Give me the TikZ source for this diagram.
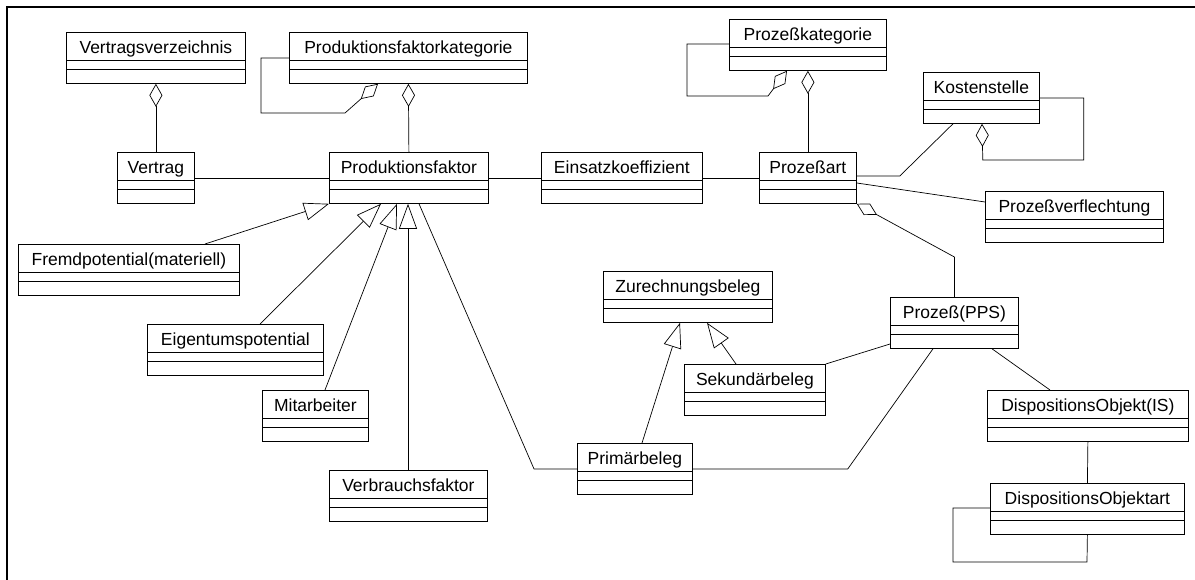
\documentclass[tikz,border=0pt]{standalone}
\usepackage{fontspec}
\setmainfont{Liberation Sans}
\usepackage{tikz}
\usetikzlibrary{arrows.meta}

\begin{document}
\begin{tikzpicture}[x=1pt,y=-1pt,
  classbox/.style={draw, line width=0.8pt, anchor=north west, inner sep=0pt,
    minimum height=51pt, text height=21pt, text depth=30pt,
    font=\fontsize{17.5}{20}\selectfont,
    path picture={
      \draw[line width=0.8pt] ([yshift=-28pt]path picture bounding box.north west) -- ([yshift=-28pt]path picture bounding box.north east);
      \draw[line width=0.8pt] ([yshift=-37pt]path picture bounding box.north west) -- ([yshift=-37pt]path picture bounding box.north east);}},
  assoc/.style={line width=0.7pt},
  aggr/.style={line width=0.7pt, -{Diamond[open, length=23pt, width=13pt]}},
  inherit/.style={line width=0.7pt, -{Triangle[open, length=25pt, width=18pt]}}]
\useasboundingbox (0,0) rectangle (1195,580);
\draw[line width=2.2pt] (7,580) -- (7,7) -- (1195,7);
\node[classbox, minimum width=179pt] (vv) at (66,32) {Vertragsverzeichnis};
\node[classbox, minimum width=238pt] (pfk) at (289,32) {Produktionsfaktorkategorie};
\node[classbox, minimum width=157pt] (pk) at (729,19) {Prozeßkategorie};
\node[classbox, minimum width=116pt] (ks) at (923,72) {Kostenstelle};
\node[classbox, minimum width=77pt] (vt) at (117,152) {Vertrag};
\node[classbox, minimum width=159pt] (pf) at (329,152) {Produktionsfaktor};
\node[classbox, minimum width=161pt] (ek) at (541,152) {Einsatzkoeffizient};
\node[classbox, minimum width=97pt] (pa) at (759,152) {Prozeßart};
\node[classbox, minimum width=178pt] (pv) at (985,191) {Prozeßverflechtung};
\node[classbox, minimum width=221pt] (fp) at (18,244) {Fremdpotential(materiell)};
\node[classbox, minimum width=176pt] (ep) at (147,324) {Eigentumspotential};
\node[classbox, minimum width=106pt] (ma) at (262,390) {Mitarbeiter};
\node[classbox, minimum width=158pt] (vf) at (329,470) {Verbrauchsfaktor};
\node[classbox, minimum width=169pt] (zb) at (603,271) {Zurechnungsbeleg};
\node[classbox, minimum width=141pt] (sb) at (684,364) {Sekundärbeleg};
\node[classbox, minimum width=115pt] (prb) at (577,443) {Primärbeleg};
\node[classbox, minimum width=128pt] (pps) at (890,297) {Prozeß(PPS)};
\node[classbox, minimum width=201pt] (doi) at (987,390) {DispositionsObjekt(IS)};
\node[classbox, minimum width=194pt] (doa) at (990,483) {DispositionsObjektart};
\draw[aggr] (vt.north) -- (vv.south);
\draw[aggr] (pf.north) -- (pfk.south);
\draw[aggr] ([yshift=-26pt]pfk.north west) -- ++(-28,0) -- ++(0,55) -- ++(84,0) -- ([xshift=89pt]pfk.south west);
\draw[aggr] (pa.north) -- (pk.south);
\draw[aggr] ([yshift=-25pt]pk.north west) -- ++(-42,0) -- ++(0,52) -- ++(81,0) -- ([xshift=58pt]pk.south west);
\draw[aggr] ([yshift=-26pt]ks.north east) -- ++(44,0) -- ++(0,62) -- ++(-101,0) -- ([xshift=59pt]ks.south west);
\draw[assoc] (vt.east) -- (pf.west);
\draw[assoc] (pf.east) -- (ek.west);
\draw[assoc] (ek.east) -- (pa.west);
\draw[assoc] ([yshift=-24pt]pa.north east) -- ++(43,0) -- ([xshift=30pt]ks.south west);
\draw[assoc] ([yshift=-31pt]pa.north east) -- ([yshift=-11pt]pv.north west);
\draw[aggr] (pps.north) -- ++(0,-40) -- (pa.south east);
\draw[assoc] ([yshift=-47pt]pps.north west) -- (sb.north east);
\draw[assoc] (prb.east) -- ++(155,0) -- ([xshift=43pt]pps.south west);
\draw[assoc] ([xshift=102pt]pps.south west) -- ([xshift=63pt]doi.north west);
\draw[assoc] (doi.south) -- (doa.north);
\draw[assoc] ([yshift=-25pt]doa.north west) -- ++(-37,0) -- ++(0,54) -- ++(134,0) -- (doa.south);
\draw[assoc] (prb.west) -- ++(-43,0) -- ([xshift=90pt]pf.south west);
\draw[inherit] ([xshift=65pt]prb.north west) -- ([xshift=77pt]zb.south west);
\draw[inherit] ([xshift=52pt]sb.north west) -- ([xshift=104pt]zb.south west);
\draw[inherit] ([xshift=187pt]fp.north west) -- (pf.south west);
\draw[inherit] ([xshift=113pt]ep.north west) -- ([xshift=52pt]pf.south west);
\draw[inherit] ([xshift=63pt]ma.north west) -- ([xshift=68pt]pf.south west);
\draw[inherit] ([xshift=79pt]vf.north west) -- ([xshift=79pt]pf.south west);
\end{tikzpicture}
\end{document}
